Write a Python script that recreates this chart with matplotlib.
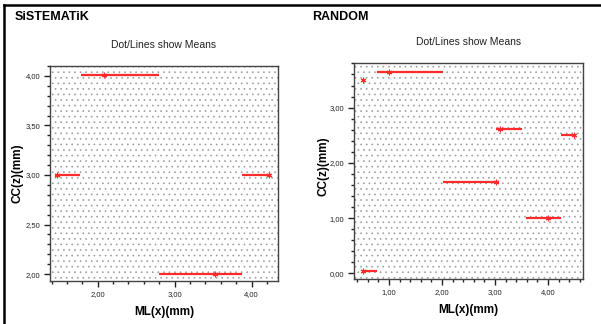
import matplotlib
matplotlib.use("Agg")
import matplotlib.pyplot as plt
from matplotlib.ticker import MultipleLocator, FuncFormatter
from matplotlib.lines import Line2D
import numpy as np

plt.rcParams['font.family'] = ['Liberation Sans', 'DejaVu Sans']
plt.rcParams['hatch.color'] = '#9a9a9a'
plt.rcParams['hatch.linewidth'] = 0.45

# SiSTEMATiK panel: mean point and line extent for each CC(z) level
sis_y = [4.01, 3.00, 3.00, 2.00]
sis_x = [2.08, 1.47, 4.22, 3.52]
sis_start = [1.78, 1.44, 3.87, 2.80]
sis_end = [2.80, 1.77, 4.25, 3.87]

# RANDOM panel
ran_y = [3.65, 3.50, 2.61, 2.51, 1.65, 1.00, 0.05]
ran_x = [1.00, 0.51, 3.09, 4.49, 3.02, 4.00, 0.51]
ran_start = [0.78, np.nan, 3.02, 4.25, 2.02, 3.58, 0.49]
ran_end = [2.01, np.nan, 3.51, 4.53, 3.08, 4.25, 0.77]

RED = '#ff2a2a'
comma = FuncFormatter(lambda v, p: f'{v:.2f}'.replace('.', ','))


def panel(ax, xs, ys, x0, x1, xlim, ylim, ymajor, yminor):
    ax.set_xlim(*xlim)
    ax.set_ylim(*ylim)
    ax.add_patch(plt.Rectangle((0, 0), 1, 1, transform=ax.transAxes,
                               facecolor='white', edgecolor='#9a9a9a',
                               hatch='...', lw=0, zorder=0))
    ax.hlines(ys, x0, x1, colors=RED, lw=1.6, zorder=3)
    ax.plot(xs, ys, ls='none', marker=(6, 2, 0), ms=4, mew=0.8,
            color=RED, zorder=4)
    ax.xaxis.set_major_locator(MultipleLocator(1))
    ax.xaxis.set_minor_locator(MultipleLocator(0.2))
    ax.yaxis.set_major_locator(MultipleLocator(ymajor))
    ax.yaxis.set_minor_locator(MultipleLocator(yminor))
    ax.xaxis.set_major_formatter(comma)
    ax.yaxis.set_major_formatter(comma)
    ax.tick_params(which='major', length=4, width=1, labelsize=5.5,
                   colors='#222222', pad=3)
    ax.tick_params(which='minor', length=2, width=1, colors='#222222')
    for s in ax.spines.values():
        s.set_color('#444444')
        s.set_linewidth(1)
    ax.set_xlabel('ML(x)(mm)', fontsize=8.5, fontweight='bold', labelpad=6)
    ax.set_ylabel('CC(z)(mm)', fontsize=8.5, fontweight='bold')
    ax.set_title('Dot/Lines show Means', fontsize=7.5, pad=13, color='#222222')


fig = plt.figure(figsize=(6.01, 3.24), dpi=100)
ax1 = fig.add_axes([0.0832, 0.1327, 0.379, 0.6636])
ax2 = fig.add_axes([0.589, 0.139, 0.381, 0.667])

panel(ax1, sis_x, sis_y, sis_start, sis_end, (1.38, 4.34), (1.93, 4.10), 0.5, 0.1)
panel(ax2, ran_x, ran_y, ran_start, ran_end, (0.34, 4.66), (-0.10, 3.81), 1.0, 0.2)
ax1.yaxis.set_label_coords(-0.118, 0.5)
ax2.yaxis.set_label_coords(-0.105, 0.52)

fig.text(0.025, 0.947, 'SiSTEMATiK', fontsize=9, fontweight='bold', va='center')
fig.text(0.519, 0.947, 'RANDOM', fontsize=9, fontweight='bold', va='center')

# outer frame: top and left rules only
fig.add_artist(Line2D([4 / 601, 1], [1 - 5 / 324] * 2, color='black', lw=1.8))
fig.add_artist(Line2D([4 / 601] * 2, [0, 1 - 5 / 324], color='black', lw=1.8))

fig.savefig('out.png', dpi=100)
